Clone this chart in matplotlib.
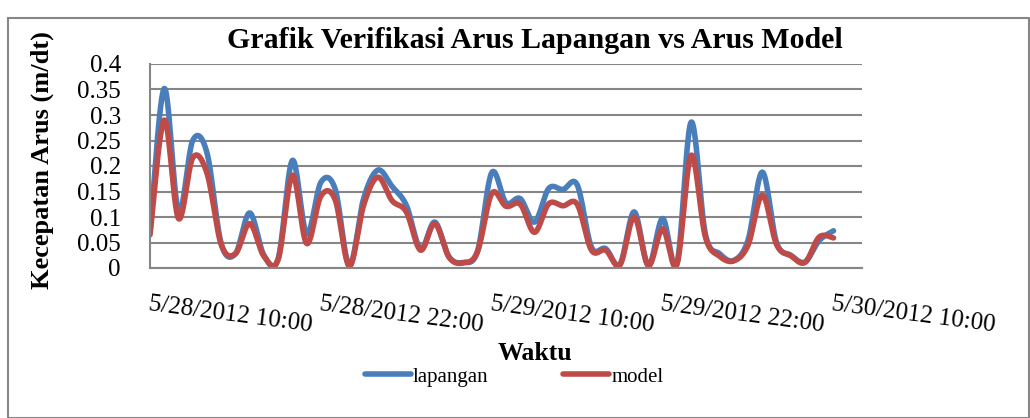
import numpy as np
import pandas as pd
import matplotlib
matplotlib.use("Agg")
import matplotlib.pyplot as plt
import matplotlib.dates as mdates
from matplotlib.patches import Rectangle

# ---- data ----
start_time = "2012-05-28 10:00"
lapangan = [0.07, 0.352, 0.112, 0.250, 0.226, 0.048, 0.028, 0.108, 0.025, 0.018,
            0.211, 0.067, 0.168, 0.155, 0.005, 0.136, 0.192, 0.160, 0.123, 0.038,
            0.090, 0.022, 0.011, 0.033, 0.187, 0.128, 0.136, 0.090, 0.156, 0.154,
            0.163, 0.041, 0.038, 0.007, 0.110, 0.005, 0.097, 0.008, 0.286, 0.067,
            0.028, 0.015, 0.055, 0.188, 0.050, 0.025, 0.012, 0.054, 0.073]
model = [0.065, 0.290, 0.097, 0.216, 0.186, 0.046, 0.028, 0.087, 0.023, 0.017,
         0.182, 0.048, 0.141, 0.134, 0.004, 0.123, 0.178, 0.132, 0.110, 0.035,
         0.087, 0.021, 0.010, 0.032, 0.146, 0.121, 0.125, 0.070, 0.126, 0.122,
         0.125, 0.035, 0.035, 0.006, 0.100, 0.005, 0.077, 0.007, 0.221, 0.061,
         0.023, 0.014, 0.045, 0.143, 0.046, 0.024, 0.011, 0.061, 0.059]
tick_labels = ["5/28/2012 10:00", "5/28/2012 22:00", "5/29/2012 10:00",
               "5/29/2012 22:00", "5/30/2012 10:00"]
series_names = ["lapangan", "model"]
colors = ["#4A7EBB", "#BE4B48"]

times = pd.date_range(start_time, periods=len(lapangan), freq="h")
xnum = mdates.date2num(times.to_pydatetime())


def excel_smooth(x, y, n=24):
    x = np.asarray(x, float)
    y = np.asarray(y, float)
    px = np.concatenate([[x[0]], x, [x[-1]]])
    py = np.concatenate([[y[0]], y, [y[-1]]])
    xs, ys = [], []
    t = np.linspace(0, 1, n, endpoint=False)
    for i in range(1, len(px) - 2):
        p0x, p0y = px[i], py[i]
        p3x, p3y = px[i + 1], py[i + 1]
        c1x = p0x + (px[i + 1] - px[i - 1]) / 6
        c1y = p0y + (py[i + 1] - py[i - 1]) / 6
        c2x = p3x - (px[i + 2] - px[i]) / 6
        c2y = p3y - (py[i + 2] - py[i]) / 6
        b0 = (1 - t) ** 3
        b1 = 3 * (1 - t) ** 2 * t
        b2 = 3 * (1 - t) * t ** 2
        b3 = t ** 3
        xs.append(b0 * p0x + b1 * c1x + b2 * c2x + b3 * p3x)
        ys.append(b0 * p0y + b1 * c1y + b2 * c2y + b3 * p3y)
    xs.append([x[-1]])
    ys.append([y[-1]])
    return np.concatenate(xs), np.concatenate(ys)


plt.rcParams["font.family"] = ["Liberation Serif", "DejaVu Serif"]

W, H = 1030, 418
fig = plt.figure(figsize=(W / 100, H / 100), dpi=100)

# chart border
fig.patches.append(Rectangle((8 / W, 0.5 / H), (W - 9.5) / W, (H - 18.5) / H,
                             transform=fig.transFigure, fill=False,
                             edgecolor="#868686", linewidth=1.5))

ax = fig.add_axes([150 / W, 1 - 268 / H, (862 - 150) / W, (268 - 64) / H])

for vals, c, name in zip([lapangan, model], colors, series_names):
    sx, sy = excel_smooth(xnum, vals)
    ax.plot(sx, sy, color=c, lw=4.0, solid_capstyle="round", label=name)

ax.set_ylim(0, 0.4)
ax.set_yticks(np.arange(0, 0.401, 0.05))
ax.set_yticklabels(["0", "0.05", "0.1", "0.15", "0.2", "0.25", "0.3", "0.35", "0.4"],
                   fontsize=18)
ax.yaxis.grid(True, color="#868686", lw=1.5)
ax.set_axisbelow(True)

tick_pos = xnum[::12]
ax.set_xlim(xnum[0], xnum[0] + 50 / 24)
ax.set_xticks(tick_pos)
ax.set_xticklabels(tick_labels, fontsize=18, rotation=-7.5, ha="left", va="top",
                   rotation_mode="anchor")
ax.tick_params(axis="both", length=0)
ax.tick_params(axis="x", pad=18)
ax.tick_params(axis="y", pad=21)

for s in ["top", "right"]:
    ax.spines[s].set_visible(False)
for s in ["left", "bottom"]:
    ax.spines[s].set_color("#868686")
    ax.spines[s].set_linewidth(1.5)

fig.text(535 / W, 1 - 40 / H, "Grafik Verifikasi Arus Lapangan vs Arus Model",
         ha="center", va="center", fontsize=21.5, fontweight="bold")
fig.text(42 / W, 1 - 160 / H, "Kecepatan Arus (m/dt)", rotation=90,
         ha="center", va="center", fontsize=19, fontweight="bold")
fig.text(535 / W, 1 - 353 / H, "Waktu", ha="center", va="center",
         fontsize=18.5, fontweight="bold")

leg = fig.legend(loc="center", bbox_to_anchor=(514 / W, 1 - 377 / H), ncol=2,
                 frameon=False, fontsize=15, handlelength=2.2, handletextpad=0.1,
                 columnspacing=3.6, borderpad=0)

fig.savefig("out.png", dpi=100)
